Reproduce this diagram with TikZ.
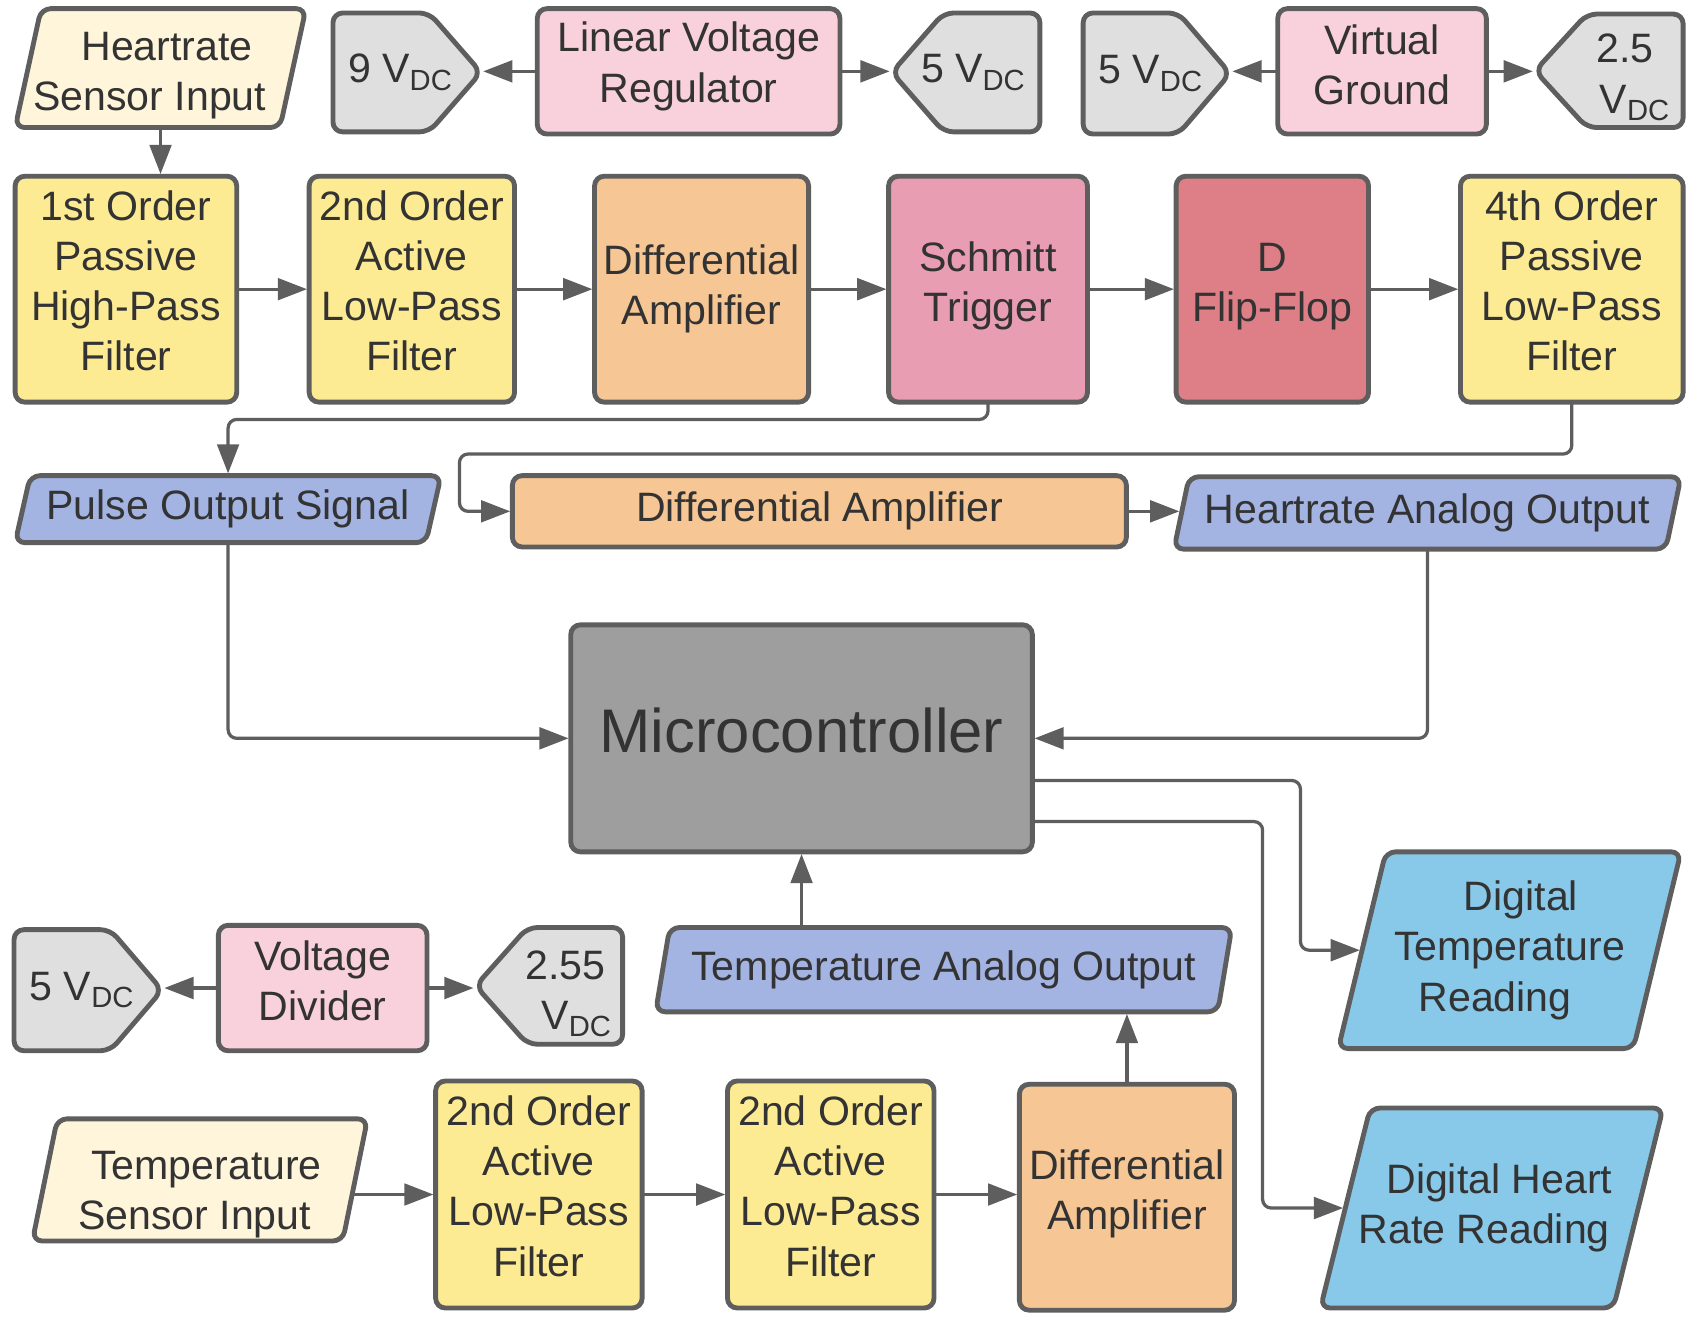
\documentclass[tikz,border=0pt]{standalone}
\usepackage{fontspec}
\setmainfont{Liberation Sans}
\usetikzlibrary{arrows.meta,backgrounds,calc}
\definecolor{bc}{HTML}{5E5E5E}
\definecolor{tc}{HTML}{333333}
\definecolor{cIn}{HTML}{FFF5DB}
\definecolor{cYel}{HTML}{FDEB94}
\definecolor{cOra}{HTML}{F6C794}
\definecolor{cPnk}{HTML}{E99DB2}
\definecolor{cRed}{HTML}{DE7F87}
\definecolor{cLpk}{HTML}{F9D1DD}
\definecolor{cGry}{HTML}{DFDFDF}
\definecolor{cLav}{HTML}{A3B3E2}
\definecolor{cSky}{HTML}{88C8E8}
\definecolor{cMc}{HTML}{9E9E9E}
\newcommand\vdc{V\raisebox{-7pt}{\fontsize{27}{30}\selectfont DC}}
\newcommand\mkpara[3]{\path[shp, fill=#3] ([xshift=#2]#1.north west) -- ([xshift=#2]#1.north east) -- ([xshift=-#2]#1.south east) -- ([xshift=-#2]#1.south west) -- cycle;}
\newcommand\mkpentr[2]{\path[shp, fill=#2] (#1.north west) -- ([xshift=-48pt]#1.north east) -- (#1.east) -- ([xshift=-48pt]#1.south east) -- (#1.south west) -- cycle;}
\newcommand\mkpentl[2]{\path[shp, fill=#2] (#1.north east) -- ([xshift=48pt]#1.north west) -- (#1.west) -- ([xshift=48pt]#1.south west) -- (#1.south east) -- cycle;}
\tikzset{
  base/.style={inner sep=0pt, outer sep=0pt, align=center, text=tc, font=\fontsize{38}{46.5}\selectfont},
  rbox/.style={base, draw=bc, line width=4.5pt, rounded corners=9pt},
  ghost/.style={base},
  shp/.style={draw=bc, line width=4.5pt, rounded corners=9pt, line join=round},
  conn/.style={draw=bc, line width=3pt, rounded corners=8pt, -{Triangle[length=27pt,width=20pt]}, shorten >=2pt},
}
\begin{document}
\begin{tikzpicture}[x=1pt,y=1pt]
\useasboundingbox (0,0) rectangle (1568,-1227);
% top row
\node[ghost, minimum width=245pt, minimum height=110pt] (hsi) at (148.5,-63) {\mbox{}\\[-7pt]\hspace*{12pt}Heartrate\\Sensor Input\hspace*{20pt}};
\node[ghost, minimum width=137pt, minimum height=110pt] (v9) at (376.5,-67) {9 \vdc\hspace*{13pt}};
\node[rbox, fill=cLpk, minimum width=280pt, minimum height=116pt] (lvr) at (637,-66) {Linear Voltage\\Regulator\\[-29.5pt]\mbox{}};
\node[ghost, minimum width=137pt, minimum height=110pt] (v5a) at (893.5,-67) {\hspace*{13pt}5 \vdc};
\node[ghost, minimum width=136pt, minimum height=112pt] (v5b) at (1070,-68) {5 \vdc\hspace*{12pt}};
\node[rbox, fill=cLpk, minimum width=193pt, minimum height=116pt] (vg) at (1278.5,-66) {Virtual\\Ground\\[-34.5pt]\mbox{}};
\node[ghost, minimum width=137pt, minimum height=105pt] (v25) at (1488.5,-65.5) {\mbox{}\\[-7.3pt]\hspace*{29pt}2.5\\\hspace*{47pt}\vdc};
% filter row
\node[rbox, fill=cYel, minimum width=205pt, minimum height=209pt] (o1) at (116.5,-267.5) {1st Order\\Passive\\High-Pass\\Filter\\[-30.5pt]\mbox{}};
\node[rbox, fill=cYel, minimum width=190pt, minimum height=209pt] (o2) at (381,-267.5) {2nd Order\\Active\\Low-Pass\\Filter\\[-30.5pt]\mbox{}};
\node[rbox, fill=cOra, minimum width=198pt, minimum height=209pt] (da1) at (649,-267.5) {Differential\\Amplifier};
\node[rbox, fill=cPnk, minimum width=184pt, minimum height=209pt] (st) at (914,-267.5) {Schmitt\\Trigger\\[-32.5pt]\mbox{}};
\node[rbox, fill=cRed, minimum width=178pt, minimum height=209pt] (dff) at (1177,-267.5) {D\\Flip-Flop\\[-34.5pt]\mbox{}};
\node[rbox, fill=cYel, minimum width=206pt, minimum height=209pt] (o4) at (1454,-267.5) {4th Order\\Passive\\Low-Pass\\Filter\\[-30.5pt]\mbox{}};
% output row
\node[ghost, minimum width=380pt, minimum height=62pt] (pos) at (211,-471) {Pulse Output Signal};
\node[rbox, fill=cOra, minimum width=568pt, minimum height=66pt] (da2) at (758,-473) {Differential Amplifier};
\node[ghost, minimum width=455pt, minimum height=67pt] (hao) at (1320.5,-474.5) {Heartrate Analog Output};
% microcontroller
\node[rbox, fill=cMc, minimum width=427pt, minimum height=210pt, font=\fontsize{57}{68}\selectfont] (mc) at (741.5,-683) {Microcontroller\\[-52pt]\mbox{}};
\node[ghost, minimum width=520pt, minimum height=78pt] (tao) at (873,-897) {Temperature Analog Output};
\node[ghost, minimum width=273pt, minimum height=182pt] (dtr) at (1396.5,-879) {\hspace*{21pt}Digital\\Temperature\hspace*{5pt}\\Reading\hspace*{27pt}};
\node[ghost, minimum width=271pt, minimum height=185pt] (dhr) at (1380,-1117.5) {\hspace*{14pt}Digital Heart\\Rate Reading\hspace*{14pt}};
% bottom
\node[ghost, minimum width=137pt, minimum height=112pt] (v5c) at (81.5,-916) {5 \vdc\hspace*{12pt}};
\node[rbox, fill=cLpk, minimum width=193pt, minimum height=116pt] (vd) at (298.5,-914) {Voltage\\Divider\\[-32.5pt]\mbox{}};
\node[ghost, minimum width=136pt, minimum height=108pt] (v255) at (508,-912) {\mbox{}\\[-5.3pt]\hspace*{30pt}2.55\\\hspace*{50pt}\vdc};
\node[ghost, minimum width=287pt, minimum height=113pt] (tsi) at (185,-1091.5) {\mbox{}\\[6.7pt]\hspace*{12pt}Temperature\\Sensor Input\hspace*{10pt}};
\node[rbox, fill=cYel, minimum width=191pt, minimum height=210pt] (b1) at (498.5,-1105) {2nd Order\\Active\\Low-Pass\\Filter\\[-30.5pt]\mbox{}};
\node[rbox, fill=cYel, minimum width=191pt, minimum height=210pt] (b2) at (768.5,-1105) {2nd Order\\Active\\Low-Pass\\Filter\\[-30.5pt]\mbox{}};
\node[rbox, fill=cOra, minimum width=199pt, minimum height=209pt] (da3) at (1042.5,-1107.5) {Differential\\Amplifier\\[-32.5pt]\mbox{}};
% background shapes
\begin{pgfonlayer}{background}
\fill[white] (0,0) rectangle (1568,-1227);
\mkpara{hsi}{12pt}{cIn}
\mkpentr{v9}{cGry}
\mkpentl{v5a}{cGry}
\mkpentr{v5b}{cGry}
\mkpentl{v25}{cGry}
\mkpara{pos}{7pt}{cLav}
\mkpara{hao}{7pt}{cLav}
\mkpara{tao}{6.5pt}{cLav}
\mkpara{dtr}{22pt}{cSky}
\mkpara{dhr}{23pt}{cSky}
\mkpentr{v5c}{cGry}
\mkpentl{v255}{cGry}
\mkpara{tsi}{11.5pt}{cIn}
\end{pgfonlayer}
% connectors
\draw[conn] (hsi.south) -- (hsi.south |- o1.north);
\draw[conn] (lvr.west) -- (v9.east |- lvr.west);
\draw[conn] (lvr.east) -- (v5a.west |- lvr.east);
\draw[conn] (vg.west) -- (v5b.east |- vg.west);
\draw[conn] (vg.east) -- (v25.west |- vg.east);
\draw[conn] (o1.east) -- (o2.west);
\draw[conn] (o2.east) -- (da1.west);
\draw[conn] (da1.east) -- (st.west);
\draw[conn] (st.east) -- (dff.west);
\draw[conn] (dff.east) -- (o4.west);
\draw[conn] (st.south) -- ++(0,-16) -| (pos.north);
\draw[conn] (o4.south) -- ++(0,-48) -| ([xshift=-49pt]da2.west) -- (da2.west);
\draw[conn] (da2.east) -- (da2.east -| hao.west);
\draw[conn] (pos.south) |- (mc.west);
\draw[conn] (hao.south) |- (mc.east);
\draw[conn] ([yshift=-39pt]mc.east) -| ([xshift=-57pt]dtr.west) -- (dtr.west);
\draw[conn] ([yshift=-77pt]mc.east) -| ([xshift=-76.5pt]dhr.west) -- (dhr.west);
\draw[conn] (mc.south |- tao.north) -- (mc.south);
\draw[conn] (da3.north) -- (da3.north |- tao.south);
\draw[conn] (vd.west) -- (v5c.east |- vd.west);
\draw[conn] (vd.east) -- (v255.west |- vd.east);
\draw[conn] ([xshift=-3pt]tsi.east |- b1.west) -- (b1.west);
\draw[conn] (b1.east) -- (b2.west);
\draw[conn] (b2.east) -- (da3.west |- b2.east);
\end{tikzpicture}
\end{document}
